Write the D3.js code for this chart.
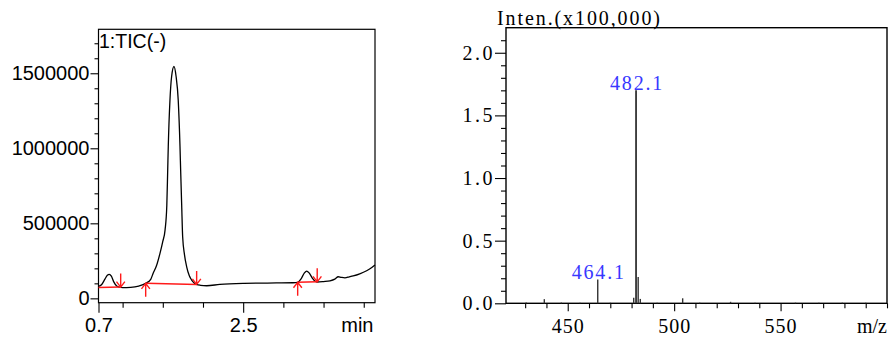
<!DOCTYPE html>
<html>
<head>
<meta charset="utf-8">
<script src="https://cdn.jsdelivr.net/npm/d3@7"></script>
<style>
  html, body { margin: 0; padding: 0; background: #fff; }
  svg { display: block; }
</style>
</head>
<body>
<svg id="fig" width="893" height="338"></svg>
<script>
// ---- Chromatogram (TIC, negative mode) ----
const ticTime = [
  0.70, 0.74, 0.78, 0.81, 0.834, 0.86, 0.89, 0.93, 0.96, 1.00, 1.10, 1.20, 1.287,
  1.35, 1.38, 1.42, 1.465, 1.50, 1.528, 1.55, 1.561, 1.568, 1.589, 1.61, 1.639,
  1.665, 1.692, 1.714, 1.722, 1.735, 1.747, 1.77, 1.797, 1.83, 1.859, 1.89, 1.921,
  1.97, 2.046, 2.21, 2.51, 2.80, 3.12, 3.178, 3.22, 3.26, 3.29, 3.32, 3.36, 3.40,
  3.421, 3.50, 3.58, 3.64, 3.683, 3.72, 3.766, 3.82, 3.869, 3.95, 4.036, 4.10, 4.139
];
const ticIntensity = [
  80000, 92000, 128000, 154000, 160000, 148000, 110000, 80000, 74000, 71000, 73000, 82000, 100000,
  127000, 167000, 215000, 300000, 380000, 455000, 620000, 855000, 1010000, 1320000, 1480000, 1545000,
  1480000, 1320000, 1010000, 855000, 620000, 410000, 290000, 210000, 150000, 122000, 103000, 93000,
  87000, 84000, 93000, 100000, 102000, 104000, 107000, 130000, 168000, 182000, 170000, 135000, 112000,
  109000, 112000, 117000, 128000, 144000, 140000, 137000, 143000, 149000, 163000, 184000, 205000, 222000
];

// integration baselines: [start, end] times and the intensities the baseline joins
const baseStartTime = [0.70, 1.287, 3.178];
const baseStartValue = [72000, 100000, 107000];
const baseEndTime = [0.976, 1.921, 3.421];
const baseEndValue = [75000, 93000, 110000];
const startMarked = [false, true, true];

const ticXTicks = [0.7, 1.0, 1.5, 2.0, 2.5, 3.0, 3.5, 4.0];
const ticXLabelled = [0.7, 2.5];
const ticYMajor = [0, 500000, 1000000, 1500000];
const ticYMinor = [100000, 200000, 300000, 400000, 600000, 700000, 800000, 900000,
  1100000, 1200000, 1300000, 1400000, 1600000, 1700000];

// ---- Mass spectrum ----
const msMz = [430.5, 439.0, 447.0, 455.8, 464.1, 470.0, 481.0, 482.1, 483.1, 484.1,
  492.0, 504.0, 512.0, 526.5, 538.0, 557.0, 568.0, 579.0, 590.0];
const msIntensity = [0.006, 0.033, 0.006, 0.005, 0.19, 0.005, 0.045, 1.70, 0.21, 0.035,
  0.005, 0.04, 0.005, 0.012, 0.004, 0.005, 0.004, 0.005, 0.004];
const msLabelMz = [482.1, 464.1];
const msLabelIntensity = [1.70, 0.19];

const msXTicks = d3.range(430, 601, 10);
const msXLabelled = [450, 500, 550];
const msYMajor = [0, 0.5, 1.0, 1.5, 2.0];
const msYMinor = d3.range(1, 22).map(d => d / 10).filter(d => Math.abs(d * 2 - Math.round(d * 2)) > 1e-6);

const svg = d3.select("#fig");
const sans = "'Liberation Sans', Arial, sans-serif";
const serif = "'Liberation Serif', 'DejaVu Serif', 'Times New Roman', serif";

// ================= left panel: TIC =================
const xL = d3.scaleLinear([0.7, 4.14], [98.5, 375]);
const yL = d3.scaleLinear([-29000, 1793000], [302.7, 29.3]);

const gL = svg.append("g");

gL.append("rect")
  .attr("x", xL.range()[0]).attr("y", yL.range()[1])
  .attr("width", xL.range()[1] - xL.range()[0])
  .attr("height", yL.range()[0] - yL.range()[1])
  .attr("fill", "none").attr("stroke", "#000").attr("stroke-width", 1.2);

function styleAxis(g, family, size, spacing) {
  g.attr("font-family", null).attr("font-size", null);
  g.select(".domain").remove();
  g.selectAll("line").attr("stroke", "#000").attr("stroke-width", 1.1);
  g.selectAll("text").attr("fill", "#000")
    .attr("font-family", family).attr("font-size", size)
    .style("letter-spacing", spacing + "px");
}

gL.append("g").attr("transform", `translate(${xL.range()[0]},0)`)
  .call(d3.axisLeft(yL).tickValues(ticYMajor).tickSize(8).tickPadding(1).tickFormat(d3.format("d")))
  .call(g => styleAxis(g, sans, 20, 0));
gL.append("g").attr("transform", `translate(${xL.range()[0]},0)`)
  .call(d3.axisLeft(yL).tickValues(ticYMinor).tickSize(4).tickFormat(""))
  .call(g => styleAxis(g, sans, 20, 0));

const xLMinor = ticXTicks.filter(t => !ticXLabelled.includes(t));
gL.append("g").attr("transform", `translate(0,${yL.range()[0]})`)
  .call(d3.axisBottom(xL).tickValues(xLMinor).tickSize(5).tickFormat(""))
  .call(g => styleAxis(g, sans, 20, 0));
gL.append("g").attr("transform", `translate(0,${yL.range()[0]})`)
  .call(d3.axisBottom(xL).tickValues(ticXLabelled).tickSize(10).tickPadding(5).tickFormat(d3.format(".1f")))
  .call(g => styleAxis(g, sans, 20, 0));

gL.append("text")
  .attr("x", 373.5).attr("y", 331.7)
  .attr("text-anchor", "end")
  .attr("font-family", sans).attr("font-size", 20)
  .text("min");

gL.append("text")
  .attr("x", 99).attr("y", 48)
  .attr("font-family", sans).attr("font-size", 19.5)
  .text("1:TIC(-)");

const ticLine = d3.line()
  .x((d, i) => xL(ticTime[i]))
  .y((d, i) => yL(ticIntensity[i]))
  .curve(d3.curveMonotoneX);

gL.append("path")
  .datum(ticTime)
  .attr("d", ticLine)
  .attr("fill", "none").attr("stroke", "#000").attr("stroke-width", 1.3);

// integration baselines and peak start/end arrows
const red = "#ff1a1a";
const arrowLen = 13.5, headW = 4.2, headH = 5.5;
baseStartTime.forEach((t0, i) => {
  const x0 = xL(t0), y0 = yL(baseStartValue[i]);
  const x1 = xL(baseEndTime[i]), y1 = yL(baseEndValue[i]);
  gL.append("line")
    .attr("x1", x0).attr("y1", y0).attr("x2", x1).attr("y2", y1)
    .attr("stroke", red).attr("stroke-width", 1.5);
  // end: arrow pointing down onto the baseline
  gL.append("path")
    .attr("d", `M${x1},${y1 - arrowLen}L${x1},${y1}M${x1 - headW},${y1 - headH}L${x1},${y1}L${x1 + headW},${y1 - headH}`)
    .attr("fill", "none").attr("stroke", red).attr("stroke-width", 1.4);
  // start: arrow pointing up onto the baseline
  if (startMarked[i]) {
    gL.append("path")
      .attr("d", `M${x0},${y0 + arrowLen}L${x0},${y0}M${x0 - headW},${y0 + headH}L${x0},${y0}L${x0 + headW},${y0 + headH}`)
      .attr("fill", "none").attr("stroke", red).attr("stroke-width", 1.4);
  }
});

// ================= right panel: mass spectrum =================
const xR = d3.scaleLinear([421, 600], [506, 887]);
const yR = d3.scaleLinear([0, 2.2], [303.3, 27.7]);

const gR = svg.append("g");

gR.append("rect")
  .attr("x", xR.range()[0]).attr("y", yR.range()[1])
  .attr("width", xR.range()[1] - xR.range()[0])
  .attr("height", yR.range()[0] - yR.range()[1])
  .attr("fill", "none").attr("stroke", "#000").attr("stroke-width", 1.4);

gR.append("g").attr("transform", `translate(${xR.range()[0]},0)`)
  .call(d3.axisLeft(yR).tickValues(msYMajor).tickSize(11).tickPadding(0).tickFormat(d3.format(".1f")))
  .call(g => styleAxis(g, serif, 20, 2.5));
gR.append("g").attr("transform", `translate(${xR.range()[0]},0)`)
  .call(d3.axisLeft(yR).tickValues(msYMinor).tickSize(5).tickFormat(""))
  .call(g => styleAxis(g, serif, 20, 0));

const xRMinor = msXTicks.filter(t => !msXLabelled.includes(t));
gR.append("g").attr("transform", `translate(0,${yR.range()[0]})`)
  .call(d3.axisBottom(xR).tickValues(xRMinor).tickSize(5).tickFormat(""))
  .call(g => styleAxis(g, serif, 20, 0));
gR.append("g").attr("transform", `translate(0,${yR.range()[0]})`)
  .call(d3.axisBottom(xR).tickValues(msXLabelled).tickSize(8).tickPadding(7.5).tickFormat(d3.format("d")))
  .call(g => styleAxis(g, serif, 20, 1));

gR.append("text")
  .attr("x", 497).attr("y", 24.5)
  .attr("textLength", 163).attr("lengthAdjust", "spacing")
  .attr("font-family", serif).attr("font-size", 20)
  .text("Inten.(x100,000)");

gR.append("text")
  .attr("x", 887).attr("y", 333)
  .attr("text-anchor", "end")
  .attr("textLength", 30).attr("lengthAdjust", "spacing")
  .attr("font-family", serif).attr("font-size", 20)
  .text("m/z");

gR.append("g").selectAll("line")
  .data(msMz)
  .join("line")
  .attr("x1", d => xR(d)).attr("x2", d => xR(d))
  .attr("y1", yR(0))
  .attr("y2", (d, i) => yR(msIntensity[i]))
  .attr("stroke", "#333")
  .attr("stroke-width", (d, i) => msIntensity[i] > 1 ? 1.8 : 1.4);

gR.append("g").selectAll("text")
  .data(msLabelMz)
  .join("text")
  .attr("x", d => xR(d) + 1)
  .attr("y", (d, i) => yR(msLabelIntensity[i]))
  .attr("text-anchor", "middle")
  .attr("fill", "#3838ff")
  .attr("font-family", serif).attr("font-size", 20)
  .style("letter-spacing", "1.8px")
  .text(d => d3.format(".1f")(d));
</script>
</body>
</html>
